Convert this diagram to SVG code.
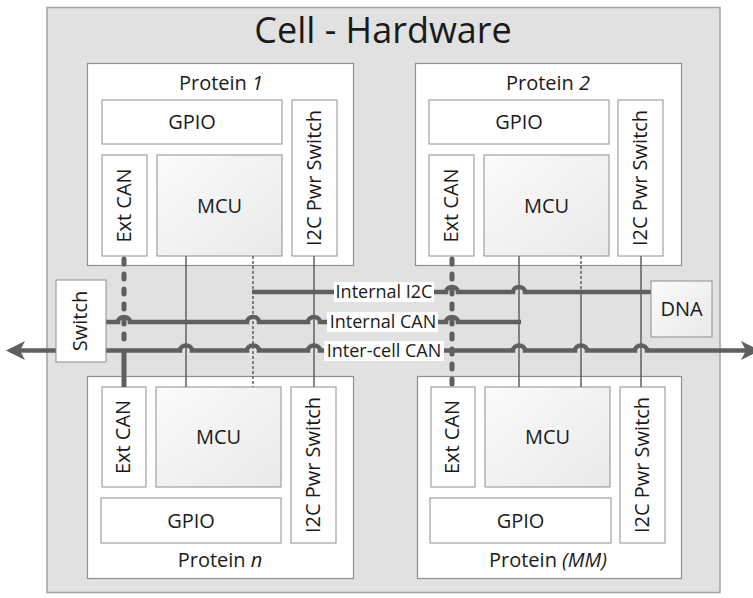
<svg xmlns="http://www.w3.org/2000/svg" width="753" height="598" viewBox="0 0 753 598">
<defs>
<linearGradient id="gMcu" x1="0" y1="0" x2="1" y2="1">
<stop offset="0" stop-color="#fbfbfb"/>
<stop offset="1" stop-color="#e9e9e9"/>
</linearGradient>
<marker id="arr" viewBox="0 0 19 19" refX="15" refY="9.5" markerWidth="19" markerHeight="19" markerUnits="userSpaceOnUse" orient="auto-start-reverse">
<path d="M0,0 L19,9.5 L0,19 L5,9.5 z" fill="#5f5f5f"/>
</marker>
</defs>
<style>
text{font-family:"Open Sans","Liberation Sans",sans-serif;fill:#1a1a1a;}
.cell{fill:#e1e1e1;stroke:#a3a3a3;stroke-width:1.5;}
.prot{fill:#ffffff;stroke:#8e8e8e;stroke-width:1.2;}
.box{fill:#ffffff;stroke:#8e8e8e;stroke-width:1;}
.mcu{fill:url(#gMcu);stroke:#8e8e8e;stroke-width:1;}
.lbl{font-size:20px;text-anchor:middle;}
.ttl{font-size:36px;text-anchor:middle;}
.bus{fill:none;stroke:#5f5f5f;stroke-width:4.5;}
.thin{fill:none;stroke:#5f5f5f;stroke-width:1.5;}
.dot{fill:none;stroke:#5f5f5f;stroke-width:1.5;stroke-dasharray:3 2;}
.dash{fill:none;stroke:#5f5f5f;stroke-width:5;stroke-dasharray:5 10;stroke-linecap:round;}
.thick{fill:none;stroke:#5f5f5f;stroke-width:5;}
.blbl{font-size:18px;text-anchor:middle;}
.bbg{fill:#ffffff;}
</style>

<g id="cell">
<rect class="cell" x="47" y="7.5" width="673" height="585"/>
<text class="ttl" x="383" y="43">Cell - Hardware</text>
</g>

<g id="protein1">
<rect class="prot" x="87.5" y="63.5" width="266" height="202"/>
<text class="lbl" x="221" y="90">Protein <tspan font-style="italic">1</tspan></text>
<rect class="box" x="102" y="100" width="180" height="44"/>
<text class="lbl" x="192" y="129">GPIO</text>
<rect class="box" x="102" y="155" width="45" height="101"/>
<text class="lbl" transform="translate(124.5,205.5) rotate(-90)" y="6">Ext CAN</text>
<rect class="mcu" x="157" y="155" width="125" height="101"/>
<text class="lbl" x="219.5" y="212.5">MCU</text>
<rect class="box" x="292" y="100" width="45" height="156"/>
<text class="lbl" transform="translate(314.5,178) rotate(-90)" y="6">I2C Pwr Switch</text>
</g>

<g id="protein2">
<rect class="prot" x="415.5" y="63.5" width="266" height="202"/>
<text class="lbl" x="548" y="90">Protein <tspan font-style="italic">2</tspan></text>
<rect class="box" x="429" y="100" width="180" height="44"/>
<text class="lbl" x="519" y="129">GPIO</text>
<rect class="box" x="429" y="155" width="45" height="101"/>
<text class="lbl" transform="translate(451.5,205.5) rotate(-90)" y="6">Ext CAN</text>
<rect class="mcu" x="484" y="155" width="125" height="101"/>
<text class="lbl" x="546.5" y="212.5">MCU</text>
<rect class="box" x="618" y="100" width="45" height="156"/>
<text class="lbl" transform="translate(640.5,178) rotate(-90)" y="6">I2C Pwr Switch</text>
</g>

<g id="proteinN">
<rect class="prot" x="87.5" y="376.5" width="266" height="202"/>
<text class="lbl" x="220" y="567">Protein <tspan font-style="italic">n</tspan></text>
<rect class="box" x="102" y="387" width="44" height="100"/>
<text class="lbl" transform="translate(124,437) rotate(-90)" y="6">Ext CAN</text>
<rect class="mcu" x="156" y="387" width="125" height="100"/>
<text class="lbl" x="218.5" y="444">MCU</text>
<rect class="box" x="101" y="498" width="180" height="45"/>
<text class="lbl" x="191" y="527.5">GPIO</text>
<rect class="box" x="291" y="387" width="45" height="156"/>
<text class="lbl" transform="translate(313.5,465) rotate(-90)" y="6">I2C Pwr Switch</text>
</g>

<g id="proteinMM">
<rect class="prot" x="417.5" y="376.5" width="264" height="202"/>
<text class="lbl" x="548" y="567">Protein <tspan font-style="italic">(MM)</tspan></text>
<rect class="box" x="431" y="387" width="44" height="100"/>
<text class="lbl" transform="translate(453,437) rotate(-90)" y="6">Ext CAN</text>
<rect class="mcu" x="485" y="387" width="125" height="100"/>
<text class="lbl" x="547.5" y="444">MCU</text>
<rect class="box" x="430" y="498" width="181" height="45"/>
<text class="lbl" x="520.5" y="527.5">GPIO</text>
<rect class="box" x="620" y="387" width="45" height="156"/>
<text class="lbl" transform="translate(642.5,465) rotate(-90)" y="6">I2C Pwr Switch</text>
</g>

<g id="connectors">
<path class="dash" d="M124,259 V343"/>
<path class="thick" d="M124,350 V387"/>
<path class="thin" d="M186,256 V387"/>
<path class="dot" d="M253,256 V387"/>
<path class="thin" d="M314,256 V387"/>
<path class="dash" d="M452,259 V384"/>
<path class="thin" d="M519,256 V387"/>
<path class="dot" d="M581,256 V292"/>
<path class="thin" d="M581,292 V387"/>
<path class="thin" d="M641,256 V387"/>
<path class="bus" d="M252,292 H446 A6,5 0 0 1 458,292 H513 A6,5 0 0 1 525,292 H651"/>
<path class="bus" d="M106,322 H118 A6,5 0 0 1 130,322 H247 A6,5 0 0 1 259,322 H308 A6,5 0 0 1 320,322 H446 A6,5 0 0 1 458,322 H521"/>
<path class="bus" marker-start="url(#arr)" marker-end="url(#arr)" d="M10,350.5 H180 A6,5 0 0 1 192,350.5 H247 A6,5 0 0 1 259,350.5 H308 A6,5 0 0 1 320,350.5 H513 A6,5 0 0 1 525,350.5 H575 A6,5 0 0 1 587,350.5 H635 A6,5 0 0 1 647,350.5 H756"/>
<rect class="bbg" x="334" y="282" width="100" height="20"/>
<text class="blbl" x="384" y="298">Internal I2C</text>
<rect class="bbg" x="327" y="312" width="111" height="20"/>
<text class="blbl" x="383" y="328">Internal CAN</text>
<rect class="bbg" x="324" y="341" width="120" height="20"/>
<text class="blbl" x="384" y="357">Inter-cell CAN</text>
</g>

<g id="switch">
<rect class="box" x="56" y="280" width="50" height="82"/>
<text class="lbl" transform="translate(81,321) rotate(-90)" y="6">Switch</text>
</g>

<g id="dna">
<rect class="mcu" x="651" y="281" width="61" height="56"/>
<text class="lbl" x="681.5" y="316">DNA</text>
</g>
</svg>
